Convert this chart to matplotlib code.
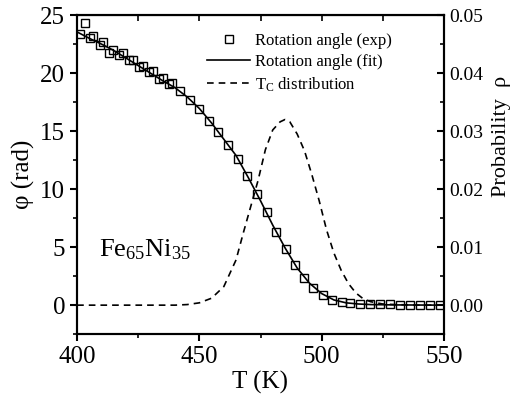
import matplotlib
matplotlib.use("Agg")
import matplotlib.pyplot as plt
from matplotlib.ticker import MultipleLocator, FormatStrFormatter

plt.rcParams['font.family'] = ['Liberation Serif', 'DejaVu Serif']
plt.rcParams['mathtext.fontset'] = 'custom'
plt.rcParams['mathtext.rm'] = 'Liberation Serif'
plt.rcParams['mathtext.it'] = 'Liberation Serif:italic'

# measured rotation angle (K, rad)
t_exp = [401.2, 403.3, 405.3, 406.7, 409.4, 410.5, 413.2, 414.5, 417.3, 418.7,
         421.4, 422.7, 425.5, 426.8, 429.6, 430.9, 433.6, 435.0, 437.7, 438.7,
         442.1, 446.0, 449.8, 453.8, 457.7, 461.8, 465.9, 469.6, 473.4, 477.5,
         481.3, 485.4, 489.1, 492.9, 496.6, 500.7, 504.3, 508.2, 511.8, 515.7,
         519.7, 523.8, 527.9, 532.0, 536.0, 540.1, 544.2, 548.3]
phi_exp = [23.4, 24.3, 23.0, 23.2, 22.4, 22.7, 21.75, 22.0, 21.6, 21.7,
           21.1, 21.1, 20.5, 20.6, 20.1, 20.2, 19.5, 19.6, 19.1, 19.15,
           18.5, 17.7, 16.9, 15.9, 14.9, 13.8, 12.6, 11.1, 9.6, 8.0,
           6.3, 4.8, 3.45, 2.3, 1.52, 0.86, 0.45, 0.25, 0.15, 0.1,
           0.08, 0.06, 0.06, 0.05, 0.05, 0.05, 0.05, 0.05]

# fitted rotation angle
t_fit = [400, 405, 410, 415, 420, 425, 430, 435, 440, 445, 450, 455, 460, 465,
         470, 475, 480, 485, 490, 495, 500, 505, 510, 515, 520, 530, 540, 550]
phi_fit = [23.55, 23.0, 22.5, 21.95, 21.3, 20.65, 20.0, 19.35, 18.75, 17.95,
           16.95, 15.7, 14.3, 12.9, 11.0, 9.0, 6.9, 4.95, 3.2, 1.9,
           1.0, 0.45, 0.2, 0.1, 0.05, 0.02, 0.01, 0.0]

# Tc distribution
t_dist = [400, 420, 440, 445, 450, 455, 460, 465, 468, 471, 474, 477, 480, 483,
          485, 487, 490, 493, 496, 499, 502, 505, 508, 511, 514, 517, 520, 525,
          530, 540, 550]
rho = [0.0, 0.0, 0.0, 0.0001, 0.0004, 0.0012, 0.0032, 0.0078, 0.0125, 0.017,
       0.0215, 0.0268, 0.0302, 0.0316, 0.0320, 0.0316, 0.0295, 0.0266, 0.0225,
       0.0180, 0.0130, 0.0090, 0.0060, 0.0037, 0.0021, 0.0011, 0.0006, 0.0002,
       0.0001, 0.0, 0.0]

fig = plt.figure(figsize=(5.21, 4.09), dpi=100)
ax = fig.add_axes([0.148, 0.183, 0.704, 0.780])
ax2 = ax.twinx()

ax.plot(t_exp, phi_exp, ls='none', marker='s', ms=5.5, mfc='none', mec='black',
        mew=1.0, label='Rotation angle (exp)')
ax.plot(t_fit, phi_fit, color='black', lw=1.2, label='Rotation angle (fit)')
ax2.plot(t_dist, rho, color='black', lw=1.2, ls=(0, (4, 3)),
         label='T$_\\mathrm{C}$ distribution')

ax.set_xlim(400, 550)
ax.set_ylim(-2.5, 25)
ax2.set_ylim(-0.005, 0.05)

ax.xaxis.set_major_locator(MultipleLocator(50))
ax.xaxis.set_minor_locator(MultipleLocator(25))
ax.yaxis.set_major_locator(MultipleLocator(5))
ax.yaxis.set_minor_locator(MultipleLocator(2.5))
ax2.yaxis.set_major_locator(MultipleLocator(0.01))
ax2.yaxis.set_minor_locator(MultipleLocator(0.005))
ax2.yaxis.set_major_formatter(FormatStrFormatter('%.2f'))

ax.tick_params(axis='both', which='major', direction='out', length=5, width=1.5,
               labelsize=18, top=False)
ax.tick_params(axis='both', which='minor', direction='out', length=3, width=1.2,
               top=False)
ax2.tick_params(axis='y', which='major', direction='in', length=5, width=1.5,
                labelsize=14)
ax2.tick_params(axis='y', which='minor', direction='in', length=3, width=1.2)

# inward ticks along the top edge
axt = ax.secondary_xaxis('top')
axt.xaxis.set_major_locator(MultipleLocator(25))
axt.tick_params(direction='in', length=4, width=1.2, labeltop=False)

for a in (ax, ax2):
    for s in a.spines.values():
        s.set_linewidth(1.5)

ax.set_xlabel('T (K)', fontsize=18, labelpad=2)
ax.set_ylabel('\u03c6 (rad)', fontsize=18, labelpad=4)
ax2.set_ylabel('Probability  \u03c1', fontsize=16)
ax2.yaxis.set_label_coords(1.13, 0.62)

ax.text(409, 4.2, 'Fe$_{65}$Ni$_{35}$', fontsize=19)

h1, l1 = ax.get_legend_handles_labels()
h2, l2 = ax2.get_legend_handles_labels()
ax.legend(h1 + h2, l1 + l2, loc='upper right', frameon=False, fontsize=12,
          handlelength=2.6, handletextpad=0.3, labelspacing=0.3,
          bbox_to_anchor=(0.9, 0.99))

fig.savefig('out.png', dpi=100)
